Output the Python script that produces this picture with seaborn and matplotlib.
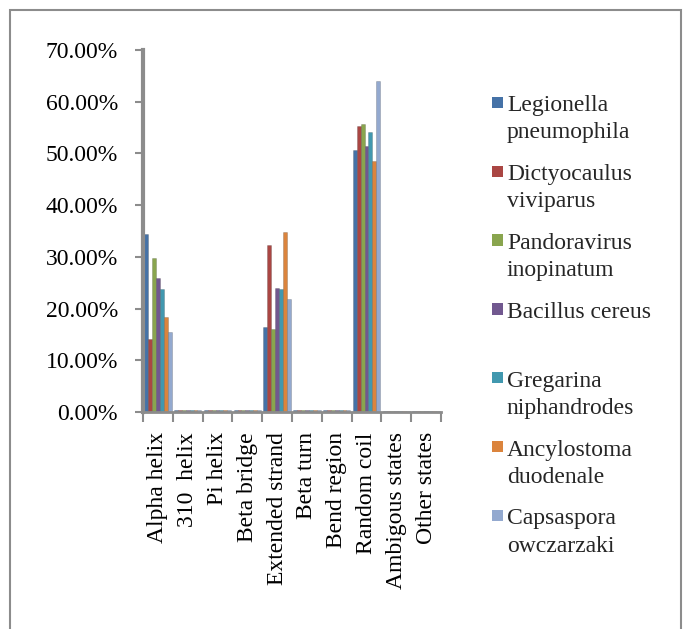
import matplotlib
matplotlib.use("Agg")
import matplotlib.pyplot as plt
import matplotlib.patches as mpatches
from matplotlib.ticker import FuncFormatter, FixedLocator
import seaborn as sns
import pandas as pd

categories = ["Alpha helix", "310  helix", "Pi helix", "Beta bridge", "Extended strand",
              "Beta turn", "Bend region", "Random coil", "Ambigous states", "Other states"]

species = ["Legionella pneumophila", "Dictyocaulus viviparus", "Pandoravirus inopinatum",
           "Bacillus cereus", "Gregarina niphandrodes", "Ancylostoma duodenale",
           "Capsaspora owczarzaki"]

legend_labels = ["Legionella\npneumophila", "Dictyocaulus\nviviparus", "Pandoravirus\ninopinatum",
                 "Bacillus cereus\n ", "Gregarina\nniphandrodes", "Ancylostoma\nduodenale",
                 "Capsaspora\nowczarzaki"]

legionella = [0.344, 0.003, 0.003, 0.003, 0.165, 0.003, 0.003, 0.507, 0.001, 0.001]
dictyocaulus = [0.142, 0.003, 0.003, 0.003, 0.322, 0.003, 0.003, 0.553, 0.001, 0.001]
pandoravirus = [0.297, 0.003, 0.003, 0.003, 0.161, 0.003, 0.003, 0.557, 0.001, 0.001]
bacillus = [0.260, 0.003, 0.003, 0.003, 0.239, 0.003, 0.003, 0.515, 0.001, 0.001]
gregarina = [0.237, 0.003, 0.003, 0.003, 0.237, 0.003, 0.003, 0.542, 0.001, 0.001]
ancylostoma = [0.183, 0.003, 0.003, 0.003, 0.348, 0.003, 0.003, 0.485, 0.001, 0.001]
capsaspora = [0.155, 0.003, 0.003, 0.003, 0.219, 0.003, 0.003, 0.641, 0.001, 0.001]

series = [legionella, dictyocaulus, pandoravirus, bacillus, gregarina, ancylostoma, capsaspora]

colors = ["#4572A7", "#AA4643", "#89A54E", "#71588F", "#4198AF", "#DB843D", "#93A9CF"]

rows = []
for sp, vals in zip(species, series):
    for cat, v in zip(categories, vals):
        rows.append({"category": cat, "species": sp, "value": v})
df = pd.DataFrame(rows)

sns.set_style("white")
plt.rcParams["font.family"] = ["Liberation Serif", "DejaVu Serif"]
plt.rcParams["font.size"] = 17

fig = plt.figure(figsize=(6.85, 6.29), dpi=100)
W, H = 685, 629
ax = fig.add_axes([143 / W, 1 - 412 / H, (441 - 143) / W, (412 - 50) / H])

sns.barplot(data=df, x="category", y="value", hue="species", order=categories,
            hue_order=species, palette=colors, width=0.92, saturation=1,
            ax=ax, legend=True)

for p in ax.patches:
    p.set_edgecolor((0, 0, 0, 0.18))
    p.set_linewidth(0.6)

FS = 17
HH = 0.7
handles = ax.legend_.legend_handles
ax.legend_.remove()
leg = fig.legend(handles, legend_labels, loc="upper left",
                 bbox_to_anchor=(480 / W, 1 - 83 / H), frameon=False,
                 handlelength=0.46, handleheight=HH, handletextpad=0.18,
                 labelspacing=0.87, borderpad=0, fontsize=FS)
for t in leg.get_texts():
    t.set_linespacing(1.4)
sq = 0.47 * FS
for h in leg.legend_handles:
    h.set_edgecolor("none")
    h.set_height(sq)
    h.set_y(17.9 - sq / 2)

ax.set_ylim(0, 0.70)
ax.set_xlim(-0.5, len(categories) - 0.5)
ax.yaxis.set_major_locator(FixedLocator([0, 0.1, 0.2, 0.3, 0.4, 0.5, 0.6, 0.7]))
ax.yaxis.set_major_formatter(FuncFormatter(lambda v, p: f"{v * 100:.2f}%"))
ax.set_xlabel("")
ax.set_ylabel("")

for s in ["top", "right"]:
    ax.spines[s].set_visible(False)
ax.spines["left"].set_color("#8c8c8c")
ax.spines["left"].set_linewidth(3)
ax.spines["bottom"].set_color("#8c8c8c")
ax.spines["bottom"].set_linewidth(2)

ax.tick_params(axis="y", which="major", left=True, length=6, width=1.5,
               color="#8c8c8c", pad=12, labelsize=FS, labelcolor="black")
ax.set_xticks(range(len(categories)))
ax.set_xticklabels(categories, rotation=90, ha="center", va="top")
ax.tick_params(axis="x", which="major", bottom=False, pad=11, labelsize=FS,
               labelcolor="black")
ax.set_xticks([i - 0.5 for i in range(len(categories) + 1)], minor=True)
ax.tick_params(axis="x", which="minor", bottom=True, length=7, width=1.5,
               color="#8c8c8c")

fig.patches.append(mpatches.Rectangle((10 / W, -0.01), (681 - 10) / W, 1 - 10 / H + 0.01,
                                      transform=fig.transFigure, fill=False,
                                      edgecolor="#8c8c8c", linewidth=1.5))

fig.savefig("out.png", dpi=100, facecolor="white")
